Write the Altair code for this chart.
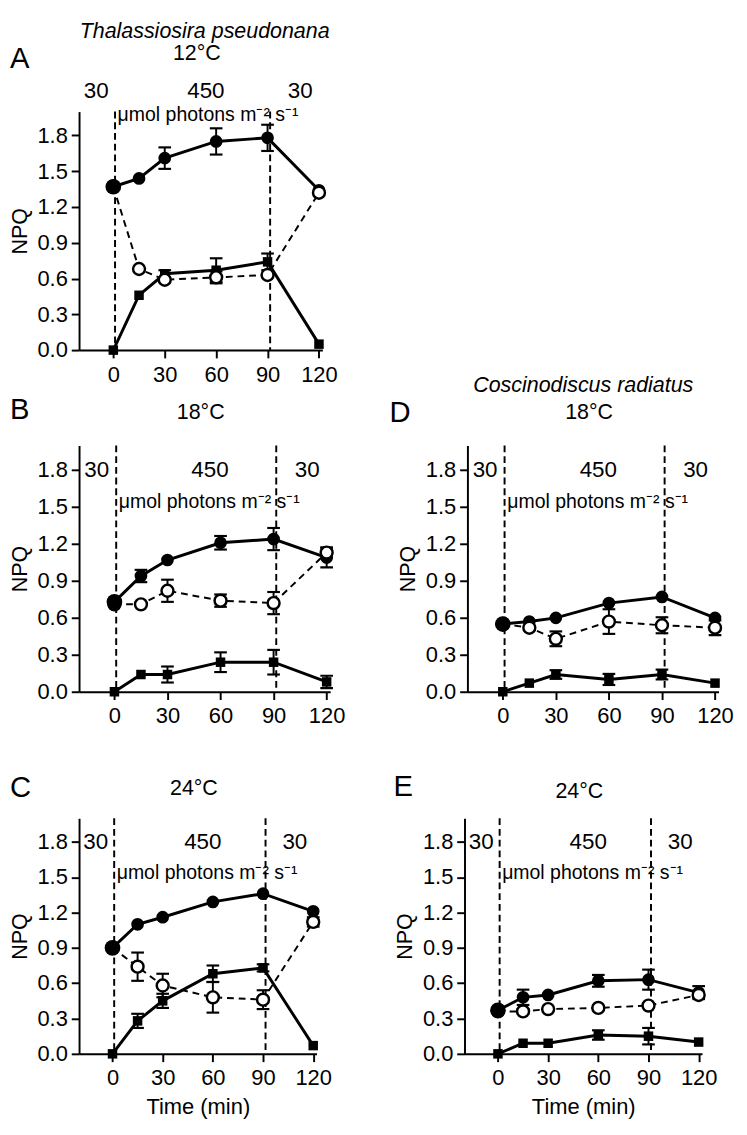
import altair as alt
import pandas as pd

FONT = "Liberation Sans"
TIMES = [0, 15, 30, 60, 90, 120]
X_TICKS = [0, 30, 60, 90, 120]
Y_TICKS = [0.0, 0.3, 0.6, 0.9, 1.2, 1.5, 1.8]
LIGHT_T = [-10, 54, 109]
LIGHT_LABELS = ["30", "450", "30"]
SWITCH_T = [1, 91.5]
UNIT_TEXT = "μmol photons m⁻² s⁻¹"
SPECIES_1 = "Thalassiosira pseudonana"
SPECIES_2 = "Coscinodiscus radiatus"

# Panel A  Thalassiosira pseudonana 12 C
A_fil = [1.37, 1.44, 1.61, 1.75, 1.78, 1.34]
A_fil_e = [0, 0, 0.09, 0.11, 0.11, 0]
A_opn = [1.37, 0.68, 0.59, 0.61, 0.63, 1.32]
A_opn_e = [0, 0, 0, 0.05, 0, 0]
A_sq = [0.00, 0.46, 0.64, 0.67, 0.74, 0.05]
A_sq_e = [0, 0, 0.03, 0.10, 0.07, 0]

# Panel B  Thalassiosira pseudonana 18 C
B_fil = [0.73, 0.94, 1.07, 1.21, 1.24, 1.09]
B_fil_e = [0, 0.05, 0, 0.055, 0.09, 0.08]
B_opn = [0.71, 0.71, 0.82, 0.74, 0.72, 1.13]
B_opn_e = [0, 0, 0.09, 0.05, 0.09, 0.04]
B_sq = [0.00, 0.14, 0.14, 0.24, 0.24, 0.08]
B_sq_e = [0, 0, 0.065, 0.08, 0.10, 0.05]

# Panel C  Thalassiosira pseudonana 24 C
C_fil = [0.90, 1.10, 1.16, 1.29, 1.36, 1.21]
C_fil_e = [0, 0, 0, 0, 0, 0]
C_opn = [0.90, 0.74, 0.58, 0.48, 0.46, 1.12]
C_opn_e = [0, 0.12, 0.10, 0.13, 0.08, 0.04]
C_sq = [0.00, 0.28, 0.45, 0.68, 0.73, 0.07]
C_sq_e = [0, 0.06, 0.06, 0.07, 0.03, 0]

# Panel D  Coscinodiscus radiatus 18 C
D_fil = [0.55, 0.57, 0.60, 0.72, 0.77, 0.60]
D_fil_e = [0, 0, 0, 0, 0, 0]
D_opn = [0.55, 0.52, 0.43, 0.57, 0.54, 0.52]
D_opn_e = [0, 0, 0.06, 0.10, 0.065, 0.06]
D_sq = [0.00, 0.07, 0.14, 0.10, 0.14, 0.07]
D_sq_e = [0, 0, 0.035, 0.045, 0.04, 0]

# Panel E  Coscinodiscus radiatus 24 C
E_fil = [0.37, 0.48, 0.50, 0.62, 0.63, 0.52]
E_fil_e = [0, 0.065, 0, 0.05, 0.085, 0.055]
E_opn = [0.36, 0.36, 0.38, 0.39, 0.41, 0.50]
E_opn_e = [0, 0.02, 0, 0, 0, 0]
E_sq = [0.00, 0.09, 0.09, 0.16, 0.15, 0.10]
E_sq_e = [0, 0, 0, 0.04, 0.07, 0]

TICK_FS = 22.5
TITLE_FS = 22
UNIT_FS = 20


def text_at(txt, x, y, size, italic=False, align="center", color="black"):
    kw = dict(font=FONT, fontSize=size, color=color, align=align,
              baseline="middle", text=txt)
    if italic:
        kw["fontStyle"] = "italic"
    return alt.Chart(pd.DataFrame({"a": [0]})).mark_text(**kw).encode(
        x=alt.value(x), y=alt.value(y))


def panel(letter, temp, fil, fil_e, opn, opn_e, sq, sq_e, w, h, top_labels,
          time_title, letter_dx, letter_dy, temp_dy, unit_v, extra_texts=()):
    rows = []
    for name, vals, errs in (("fil", fil, fil_e), ("opn", opn, opn_e), ("sq", sq, sq_e)):
        for t, v, e in zip(TIMES, vals, errs):
            rows.append({"t": t, "v": v, "e": e, "s": name, "lo": v - e, "hi": v + e})
    df = pd.DataFrame(rows)
    err = df[df["e"] > 0].copy()
    caps = pd.concat([
        pd.DataFrame({"t": err["t"], "v": err["lo"]}),
        pd.DataFrame({"t": err["t"], "v": err["hi"]}),
    ])

    xaxis = dict(values=X_TICKS, domainColor="black", domainWidth=2, tickColor="black",
                 tickWidth=2, tickSize=8, labelFont=FONT, labelFontSize=TICK_FS,
                 labelColor="black", labelPadding=6, grid=False, labelFlush=False,
                 titleFont=FONT, titleFontSize=TICK_FS, titleFontWeight="normal",
                 titleColor="black", titlePadding=7)
    xaxis["title"] = "Time (min)" if time_title else ""
    yaxis = dict(values=Y_TICKS, format=".1f", domainColor="black", domainWidth=2,
                 tickColor="black", tickWidth=2, tickSize=8, labelFont=FONT,
                 labelFontSize=TICK_FS, labelColor="black", labelPadding=4, grid=False,
                 labelFlush=False, title="NPQ", titleFont=FONT, titleFontSize=22,
                 titleFontWeight="normal", titleColor="black", titlePadding=6)

    X = alt.X("t:Q", scale=alt.Scale(domain=[-20, 122], nice=False, zero=False),
              axis=alt.Axis(**xaxis))
    Y = alt.Y("v:Q", scale=alt.Scale(domain=[0, 2.0], nice=False, zero=True),
              axis=alt.Axis(**yaxis))

    base = alt.Chart(df)
    lines_solid = base.transform_filter("datum.s != 'opn'").mark_line(
        color="black", strokeWidth=3).encode(x=X, y=Y, detail="s:N")
    line_dash = base.transform_filter("datum.s == 'opn'").mark_line(
        color="black", strokeWidth=2, strokeDash=[7, 5]).encode(x="t:Q", y="v:Q")

    switch = alt.Chart(pd.DataFrame({"t": SWITCH_T})).mark_rule(
        color="black", strokeWidth=2, strokeDash=[7, 4]).encode(x="t:Q")

    ebar = alt.Chart(err).mark_rule(color="black", strokeWidth=2).encode(
        x="t:Q", y="lo:Q", y2="hi:Q")
    ecap = alt.Chart(caps).mark_tick(orient="horizontal", color="black", size=13,
                                     thickness=2.2, opacity=1).encode(x="t:Q", y="v:Q")

    opn0 = base.transform_filter("datum.s == 'opn' && datum.t == 0").mark_point(
        shape="circle", filled=True, fill="white", stroke="black", strokeWidth=2.5,
        size=150, opacity=1).encode(x="t:Q", y="v:Q")
    film = base.transform_filter("datum.s == 'fil'").mark_point(
        shape="circle", filled=True, color="black", opacity=1).encode(
        x="t:Q", y="v:Q",
        size=alt.condition("datum.t == 0", alt.value(260), alt.value(170)))
    sqm = base.transform_filter("datum.s == 'sq'").mark_point(
        shape="square", filled=True, color="black", size=95, opacity=1).encode(
        x="t:Q", y="v:Q")
    opnm = base.transform_filter("datum.s == 'opn' && datum.t > 0").mark_point(
        shape="circle", filled=True, fill="white", stroke="black", strokeWidth=2.5,
        size=150, opacity=1).encode(x="t:Q", y="v:Q")

    light_df = pd.DataFrame({"t": LIGHT_T, "label": LIGHT_LABELS,
                             "v": [1.8] * 3})
    if top_labels:
        light = alt.Chart(light_df).mark_text(font=FONT, fontSize=23,
                                              color="black", baseline="middle").encode(
            x="t:Q", y=alt.value(-21), text="label:N")
    else:
        light = alt.Chart(light_df).mark_text(font=FONT, fontSize=23,
                                              color="black", baseline="middle").encode(
            x="t:Q", y="v:Q", text="label:N")
    unit = alt.Chart(pd.DataFrame({"t": [2.5], "v": [unit_v], "label": [UNIT_TEXT]})
                     ).mark_text(font=FONT, fontSize=UNIT_FS, color="black",
                                 align="left", baseline="middle").encode(
        x="t:Q", y="v:Q", text="label:N")

    layers = [switch, lines_solid, line_dash, ebar, ecap, opn0, film, sqm, opnm,
              light, unit,
              text_at(letter, letter_dx, letter_dy, 30, align="left"),
              text_at(temp, w / 2 - 4, temp_dy, TITLE_FS)]
    layers += list(extra_texts)
    return alt.layer(*layers).properties(width=w, height=h)


pA = panel("A", "12°C", A_fil, A_fil_e, A_opn, A_opn_e, A_sq, A_sq_e, 250, 245,
           True, False, -71, -54, -60, 1.97,
           extra_texts=[text_at(SPECIES_1, 129, -83, TITLE_FS, italic=True),
                        text_at(SPECIES_2, 518, 281, TITLE_FS, italic=True)])
pB = panel("B", "18°C", B_fil, B_fil_e, B_opn, B_opn_e, B_sq, B_sq_e, 258, 253,
           False, False, -71, -36, -34, 1.54)
pD = panel("D", "18°C", D_fil, D_fil_e, D_opn, D_opn_e, D_sq, D_sq_e, 258, 253,
           False, False, -80, -33, -34, 1.54)
# a white spacer text above panel C keeps the gap between the second and third rows
pC = panel("C", "24°C", C_fil, C_fil_e, C_opn, C_opn_e, C_sq, C_sq_e, 244, 242,
           False, True, -71, -31, -31, 1.53,
           extra_texts=[text_at("24°C", 122, -82, TITLE_FS, color="white")])
pE = panel("E", "24°C", E_fil, E_fil_e, E_opn, E_opn_e, E_sq, E_sq_e, 244, 242,
           False, True, -73, -32, -28, 1.53)

row2 = alt.hconcat(pB, pD, spacing=45)
row3 = alt.hconcat(pC, pE, spacing=63)
chart = alt.vconcat(pA, row2, row3, spacing=0).configure_view(stroke=None).properties(
    padding={"left": 0, "top": -3, "right": 5, "bottom": 5})

chart.save("out.html", embed_options={"renderer": "svg", "actions": False})
